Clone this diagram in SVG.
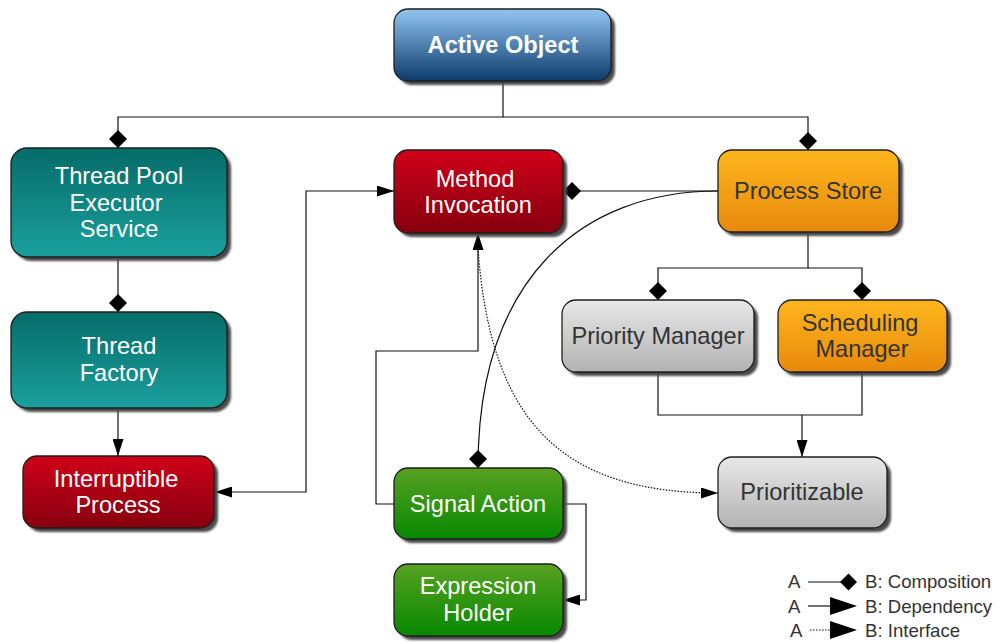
<svg xmlns="http://www.w3.org/2000/svg" width="1003" height="643" viewBox="0 0 1003 643">
  <defs>
    <linearGradient id="gBlue" x1="0" y1="0" x2="0" y2="1">
      <stop offset="0" stop-color="#93c5f2"/>
      <stop offset="1" stop-color="#0b3a6c"/>
    </linearGradient>
    <linearGradient id="gTeal" x1="0" y1="0" x2="0" y2="1">
      <stop offset="0" stop-color="#066c68"/>
      <stop offset="1" stop-color="#1aa09e"/>
    </linearGradient>
    <linearGradient id="gRed" x1="0" y1="0" x2="0" y2="1">
      <stop offset="0" stop-color="#cf0019"/>
      <stop offset="1" stop-color="#86000e"/>
    </linearGradient>
    <linearGradient id="gOrange" x1="0" y1="0" x2="0" y2="1">
      <stop offset="0" stop-color="#feb61d"/>
      <stop offset="1" stop-color="#e8890c"/>
    </linearGradient>
    <linearGradient id="gGrey" x1="0" y1="0" x2="0" y2="1">
      <stop offset="0" stop-color="#e8e8e8"/>
      <stop offset="1" stop-color="#b2b2b2"/>
    </linearGradient>
    <linearGradient id="gGreen" x1="0" y1="0" x2="0" y2="1">
      <stop offset="0" stop-color="#58a222"/>
      <stop offset="1" stop-color="#078800"/>
    </linearGradient>
    <filter id="soft" x="-10%" y="-10%" width="120%" height="130%">
      <feGaussianBlur stdDeviation="0.8"/>
    </filter>
    <marker id="diamond" viewBox="0 0 18 18" refX="18" refY="9" markerWidth="18" markerHeight="18" markerUnits="userSpaceOnUse" orient="auto">
      <path d="M0,9 L9,0 L18,9 L9,18 Z" fill="#000"/>
    </marker>
    <marker id="arrow" viewBox="0 0 17 11" refX="17" refY="5.5" markerWidth="17" markerHeight="11" markerUnits="userSpaceOnUse" orient="auto-start-reverse">
      <path d="M0,0 L17,5.5 L0,11 Z" fill="#000"/>
    </marker>
  </defs>
  <style>
    .shadow { fill: #4a4a4a; filter: url(#soft); }
    .box { stroke: #1e1e1e; stroke-width: 1.3; }
    .lbl { font-family: "Liberation Sans", Arial, sans-serif; font-size: 23.6px; text-anchor: middle; }
    .light { fill: #ffffff; }
    .dark { fill: #333333; }
    .title { font-weight: bold; }
    .conn { fill: none; stroke: #111; stroke-width: 1.2; }
    .dotted { stroke-dasharray: 1.5 1.5; }
    .legend { font-family: "Liberation Sans", Arial, sans-serif; font-size: 18.6px; fill: #333; }
  </style>

  <rect width="1003" height="643" fill="#ffffff"/>

  <!-- connectors -->
  <g id="connectors">
    <path class="conn" d="M503,81 V117 H118 V148" marker-end="url(#diamond)"/>
    <path class="conn" d="M503,117 H808 V150" marker-end="url(#diamond)"/>
    <path class="conn" d="M118,257 V312" marker-end="url(#diamond)"/>
    <path class="conn" d="M118,408 V456" marker-end="url(#arrow)"/>
    <path class="conn" d="M215,492 H306 V191 H394" marker-start="url(#arrow)" marker-end="url(#arrow)"/>
    <path class="conn" d="M718,191 H563" marker-end="url(#diamond)"/>
    <path class="conn" d="M718,191 C580,191 478,280 478,468" marker-end="url(#diamond)"/>
    <path class="conn" d="M394,504 H376 V351 H478 V233" marker-end="url(#arrow)"/>
    <path class="conn dotted" d="M478,248 C490,420 560,493 718,493" marker-end="url(#arrow)"/>
    <path class="conn" d="M808,232 V268 H658 V300" marker-end="url(#diamond)"/>
    <path class="conn" d="M808,268 H862 V300" marker-end="url(#diamond)"/>
    <path class="conn" d="M658,372 V415 H862 V372"/>
    <path class="conn" d="M802,415 V457" marker-end="url(#arrow)"/>
    <path class="conn" d="M563,504 H586 V600 H563" marker-end="url(#arrow)"/>
  </g>

  <!-- nodes -->
  <g id="active-object">
    <rect class="shadow" x="398" y="13" width="217" height="72" rx="14"/>
    <rect class="box" x="394" y="9" width="217" height="72" rx="14" fill="url(#gBlue)"/>
    <text class="lbl light title" x="503" y="53">Active Object</text>
  </g>

  <g id="thread-pool-executor-service">
    <rect class="shadow" x="15" y="152" width="216" height="109" rx="16"/>
    <rect class="box" x="11" y="148" width="216" height="109" rx="16" fill="url(#gTeal)"/>
    <text class="lbl light" x="119" y="184">Thread Pool</text>
    <text class="lbl light" x="116" y="211">Executor</text>
    <text class="lbl light" x="119" y="237">Service</text>
  </g>

  <g id="thread-factory">
    <rect class="shadow" x="15" y="316" width="216" height="96" rx="16"/>
    <rect class="box" x="11" y="312" width="216" height="96" rx="16" fill="url(#gTeal)"/>
    <text class="lbl light" x="119" y="354">Thread</text>
    <text class="lbl light" x="119" y="381">Factory</text>
  </g>

  <g id="interruptible-process">
    <rect class="shadow" x="27" y="460" width="191" height="72" rx="14"/>
    <rect class="box" x="23" y="456" width="191" height="72" rx="14" fill="url(#gRed)"/>
    <text class="lbl light" x="116" y="487">Interruptible</text>
    <text class="lbl light" x="118" y="513">Process</text>
  </g>

  <g id="method-invocation">
    <rect class="shadow" x="398" y="154" width="169" height="83" rx="14"/>
    <rect class="box" x="394" y="150" width="169" height="83" rx="14" fill="url(#gRed)"/>
    <text class="lbl light" x="475" y="187">Method</text>
    <text class="lbl light" x="478" y="213">Invocation</text>
  </g>

  <g id="process-store">
    <rect class="shadow" x="722" y="154" width="181" height="82" rx="14"/>
    <rect class="box" x="718" y="150" width="181" height="82" rx="14" fill="url(#gOrange)"/>
    <text class="lbl dark" x="808" y="199">Process Store</text>
  </g>

  <g id="priority-manager">
    <rect class="shadow" x="566" y="304" width="192" height="72" rx="14"/>
    <rect class="box" x="562" y="300" width="192" height="72" rx="14" fill="url(#gGrey)"/>
    <text class="lbl dark" x="658" y="344">Priority Manager</text>
  </g>

  <g id="scheduling-manager">
    <rect class="shadow" x="782" y="304" width="169" height="72" rx="14"/>
    <rect class="box" x="778" y="300" width="169" height="72" rx="14" fill="url(#gOrange)"/>
    <text class="lbl dark" x="860" y="331">Scheduling</text>
    <text class="lbl dark" x="862" y="357">Manager</text>
  </g>

  <g id="prioritizable">
    <rect class="shadow" x="722" y="461" width="169" height="71" rx="14"/>
    <rect class="box" x="718" y="457" width="169" height="71" rx="14" fill="url(#gGrey)"/>
    <text class="lbl dark" x="802" y="500">Prioritizable</text>
  </g>

  <g id="signal-action">
    <rect class="shadow" x="398" y="472" width="169" height="71" rx="14"/>
    <rect class="box" x="394" y="468" width="169" height="71" rx="14" fill="url(#gGreen)"/>
    <text class="lbl light" x="478" y="512">Signal Action</text>
  </g>

  <g id="expression-holder">
    <rect class="shadow" x="398" y="568" width="169" height="72" rx="14"/>
    <rect class="box" x="394" y="564" width="169" height="72" rx="14" fill="url(#gGreen)"/>
    <text class="lbl light" x="478" y="594">Expression</text>
    <text class="lbl light" x="478" y="621">Holder</text>
  </g>

  <!-- legend -->
  <g id="legend">
    <text class="legend" x="788" y="588">A</text>
    <line x1="808" y1="582" x2="841" y2="582" stroke="#111" stroke-width="1.2"/>
    <path d="M840,582 L848.5,573.5 L857,582 L848.5,590.5 Z" fill="#000"/>
    <text class="legend" x="865" y="588">B: Composition</text>

    <text class="legend" x="788" y="613">A</text>
    <line x1="808" y1="606" x2="831" y2="606" stroke="#111" stroke-width="1.2"/>
    <path d="M830,597 L857,606 L830,615 Z" fill="#000"/>
    <text class="legend" x="865" y="613">B: Dependency</text>

    <text class="legend" x="790" y="637">A</text>
    <line x1="810" y1="630" x2="831" y2="630" stroke="#111" stroke-width="1.2" stroke-dasharray="1.5 1.5"/>
    <path d="M830,621 L857,630 L830,639 Z" fill="#000"/>
    <text class="legend" x="865" y="637">B: Interface</text>
  </g>
</svg>
